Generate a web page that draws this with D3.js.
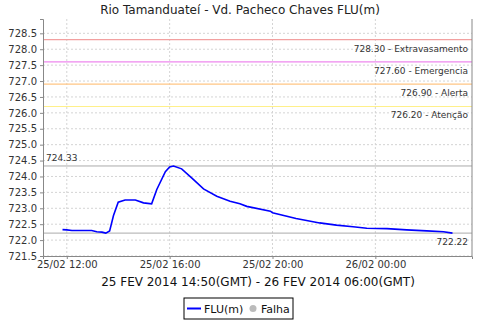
<!DOCTYPE html>
<html>
<head>
<meta charset="utf-8">
<title>Rio Tamanduateí - Vd. Pacheco Chaves</title>
<script src="https://cdn.jsdelivr.net/npm/d3@7"></script>
<style>
  body { margin: 0; background: #fff; }
  text { font-family: "DejaVu Sans", sans-serif; }
</style>
</head>
<body>
<svg></svg>
<script>
const WIDTH = 480;
const HEIGHT = 320;

// level readings (local time)
const times = ["2014-02-25 11:50", "2014-02-25 12:00", "2014-02-25 12:12", "2014-02-25 12:58",
  "2014-02-25 13:10", "2014-02-25 13:22", "2014-02-25 13:31", "2014-02-25 13:40", "2014-02-25 13:49",
  "2014-02-25 14:00", "2014-02-25 14:16", "2014-02-25 14:40", "2014-02-25 14:59", "2014-02-25 15:18",
  "2014-02-25 15:30", "2014-02-25 15:50", "2014-02-25 16:00", "2014-02-25 16:09", "2014-02-25 16:28",
  "2014-02-25 16:52", "2014-02-25 17:19", "2014-02-25 17:50", "2014-02-25 18:21", "2014-02-25 18:44",
  "2014-02-25 19:00", "2014-02-25 19:55", "2014-02-25 20:00", "2014-02-25 20:55", "2014-02-25 21:50",
  "2014-02-25 22:29", "2014-02-25 23:08", "2014-02-25 23:40", "2014-02-26 00:27", "2014-02-26 01:13",
  "2014-02-26 02:00", "2014-02-26 02:39", "2014-02-26 03:00"];
const levels = [722.33, 722.32, 722.30, 722.30, 722.26, 722.25, 722.22, 722.29, 722.77,
  723.19, 723.26, 723.26, 723.17, 723.14, 723.59, 724.15, 724.30, 724.33, 724.24,
  723.95, 723.61, 723.38, 723.22, 723.14, 723.06, 722.91, 722.86, 722.68, 722.54,
  722.47, 722.42, 722.37, 722.36, 722.32, 722.29, 722.26, 722.22];

// alarm thresholds
const limitValues = [728.30, 727.60, 726.90, 726.20];
const limitNames = ["Extravasamento", "Emergencia", "Alerta", "Atenção"];
const limitColors = ["#f2a0a0", "#ee88ee", "#ffc684", "#fff08a"];

const maxLevel = 724.33;
const lastLevel = 722.22;

const yTicks = d3.range(721.5, 728.51, 0.5);
const xTickTimes = ["2014-02-25 12:00", "2014-02-25 16:00", "2014-02-25 20:00", "2014-02-26 00:00"];

const parse = d3.timeParse("%Y-%m-%d %H:%M");
const data = times.map((t, i) => ({ t: parse(t), v: levels[i] }));

const margin = { top: 19, right: 8, bottom: 64, left: 43 };
const w = WIDTH - margin.left - margin.right;
const h = HEIGHT - margin.top - margin.bottom;

const svg = d3.select("svg").attr("width", WIDTH).attr("height", HEIGHT);

// title
svg.append("text")
  .attr("x", 240).attr("y", 14)
  .attr("text-anchor", "middle")
  .attr("font-size", "12px")
  .attr("fill", "#222")
  .text("Rio Tamanduateí - Vd. Pacheco Chaves FLU(m)");

const g = svg.append("g").attr("transform", `translate(${margin.left},${margin.top})`);

// 5% padding on time
const ext = d3.extent(data, d => d.t);
const pad = (ext[1] - ext[0]) * 0.05;
const x = d3.scaleTime()
  .domain([new Date(+ext[0] - pad), new Date(+ext[1] + pad)])
  .range([0, w]);
const y = d3.scaleLinear()
  .domain([721.5, 728.95])
  .range([h, 0]);

// grid
g.append("g").selectAll("line")
  .data(yTicks).enter().append("line")
  .attr("x1", 0).attr("x2", w)
  .attr("y1", d => y(d)).attr("y2", d => y(d))
  .attr("stroke", "#d4d4d4").attr("stroke-dasharray", "2,2");
g.append("g").selectAll("line")
  .data(xTickTimes.map(parse)).enter().append("line")
  .attr("x1", d => x(d)).attr("x2", d => x(d))
  .attr("y1", 0).attr("y2", h)
  .attr("stroke", "#d4d4d4").attr("stroke-dasharray", "2,2");

// threshold lines
limitValues.forEach((v, i) => {
  g.append("line")
    .attr("x1", 0).attr("x2", w)
    .attr("y1", y(v)).attr("y2", y(v))
    .attr("stroke", limitColors[i]).attr("stroke-width", 1.2);
  g.append("text")
    .attr("x", w - 4).attr("y", y(v) + 12)
    .attr("text-anchor", "end")
    .attr("font-size", "9px")
    .attr("fill", "#333")
    .text(v.toFixed(2) + " - " + limitNames[i]);
});

// max and last markers
g.append("line")
  .attr("x1", 0).attr("x2", w)
  .attr("y1", y(maxLevel)).attr("y2", y(maxLevel))
  .attr("stroke", "#aaa");
g.append("text")
  .attr("x", 3).attr("y", y(maxLevel) - 5)
  .attr("font-size", "9px").attr("fill", "#333")
  .text(maxLevel.toFixed(2));
g.append("line")
  .attr("x1", 0).attr("x2", w)
  .attr("y1", y(lastLevel)).attr("y2", y(lastLevel))
  .attr("stroke", "#aaa");
g.append("text")
  .attr("x", w - 4).attr("y", y(lastLevel) + 12)
  .attr("text-anchor", "end")
  .attr("font-size", "9px").attr("fill", "#333")
  .text(lastLevel.toFixed(2));

// series
const line = d3.line().x(d => x(d.t)).y(d => y(d.v));
g.append("path")
  .datum(data)
  .attr("d", line)
  .attr("fill", "none")
  .attr("stroke", "#0000ff")
  .attr("stroke-width", 1.6);

// axes
const yAxis = g.append("g")
  .call(d3.axisLeft(y).tickValues(yTicks).tickFormat(d3.format(".1f")).tickSize(3).tickPadding(3));
const xAxis = g.append("g")
  .attr("transform", `translate(0,${h})`)
  .call(d3.axisBottom(x).tickValues(xTickTimes.map(parse))
    .tickFormat(d3.timeFormat("%d/%m %H:%M")).tickSize(3).tickPadding(2));
[yAxis, xAxis].forEach(a => {
  a.selectAll("text").attr("font-size", "10px").attr("fill", "#333")
    .style("font-family", "DejaVu Sans, sans-serif");
  a.selectAll("line").attr("stroke", "#888");
  a.select(".domain").attr("stroke", "#888");
});
g.append("line")
  .attr("x1", w).attr("x2", w).attr("y1", 0).attr("y2", h)
  .attr("stroke", "#888");

// date range subtitle
svg.append("text")
  .attr("x", 258).attr("y", 286)
  .attr("text-anchor", "middle")
  .attr("font-size", "12px").attr("fill", "#111")
  .text("25 FEV 2014 14:50(GMT) - 26 FEV 2014 06:00(GMT)");

// legend
const leg = svg.append("g").attr("transform", "translate(184,298)");
leg.append("rect")
  .attr("width", 109).attr("height", 21)
  .attr("fill", "#fff").attr("stroke", "#000");
leg.append("line")
  .attr("x1", 3).attr("x2", 17).attr("y1", 10.5).attr("y2", 10.5)
  .attr("stroke", "#0000ff").attr("stroke-width", 2);
leg.append("text")
  .attr("x", 20).attr("y", 15)
  .attr("font-size", "11px").attr("fill", "#111")
  .text("FLU(m)");
leg.append("circle")
  .attr("cx", 69).attr("cy", 10.5).attr("r", 3.5)
  .attr("fill", "#bbb");
leg.append("text")
  .attr("x", 77).attr("y", 15)
  .attr("font-size", "11px").attr("fill", "#111")
  .text("Falha");
</script>
</body>
</html>
